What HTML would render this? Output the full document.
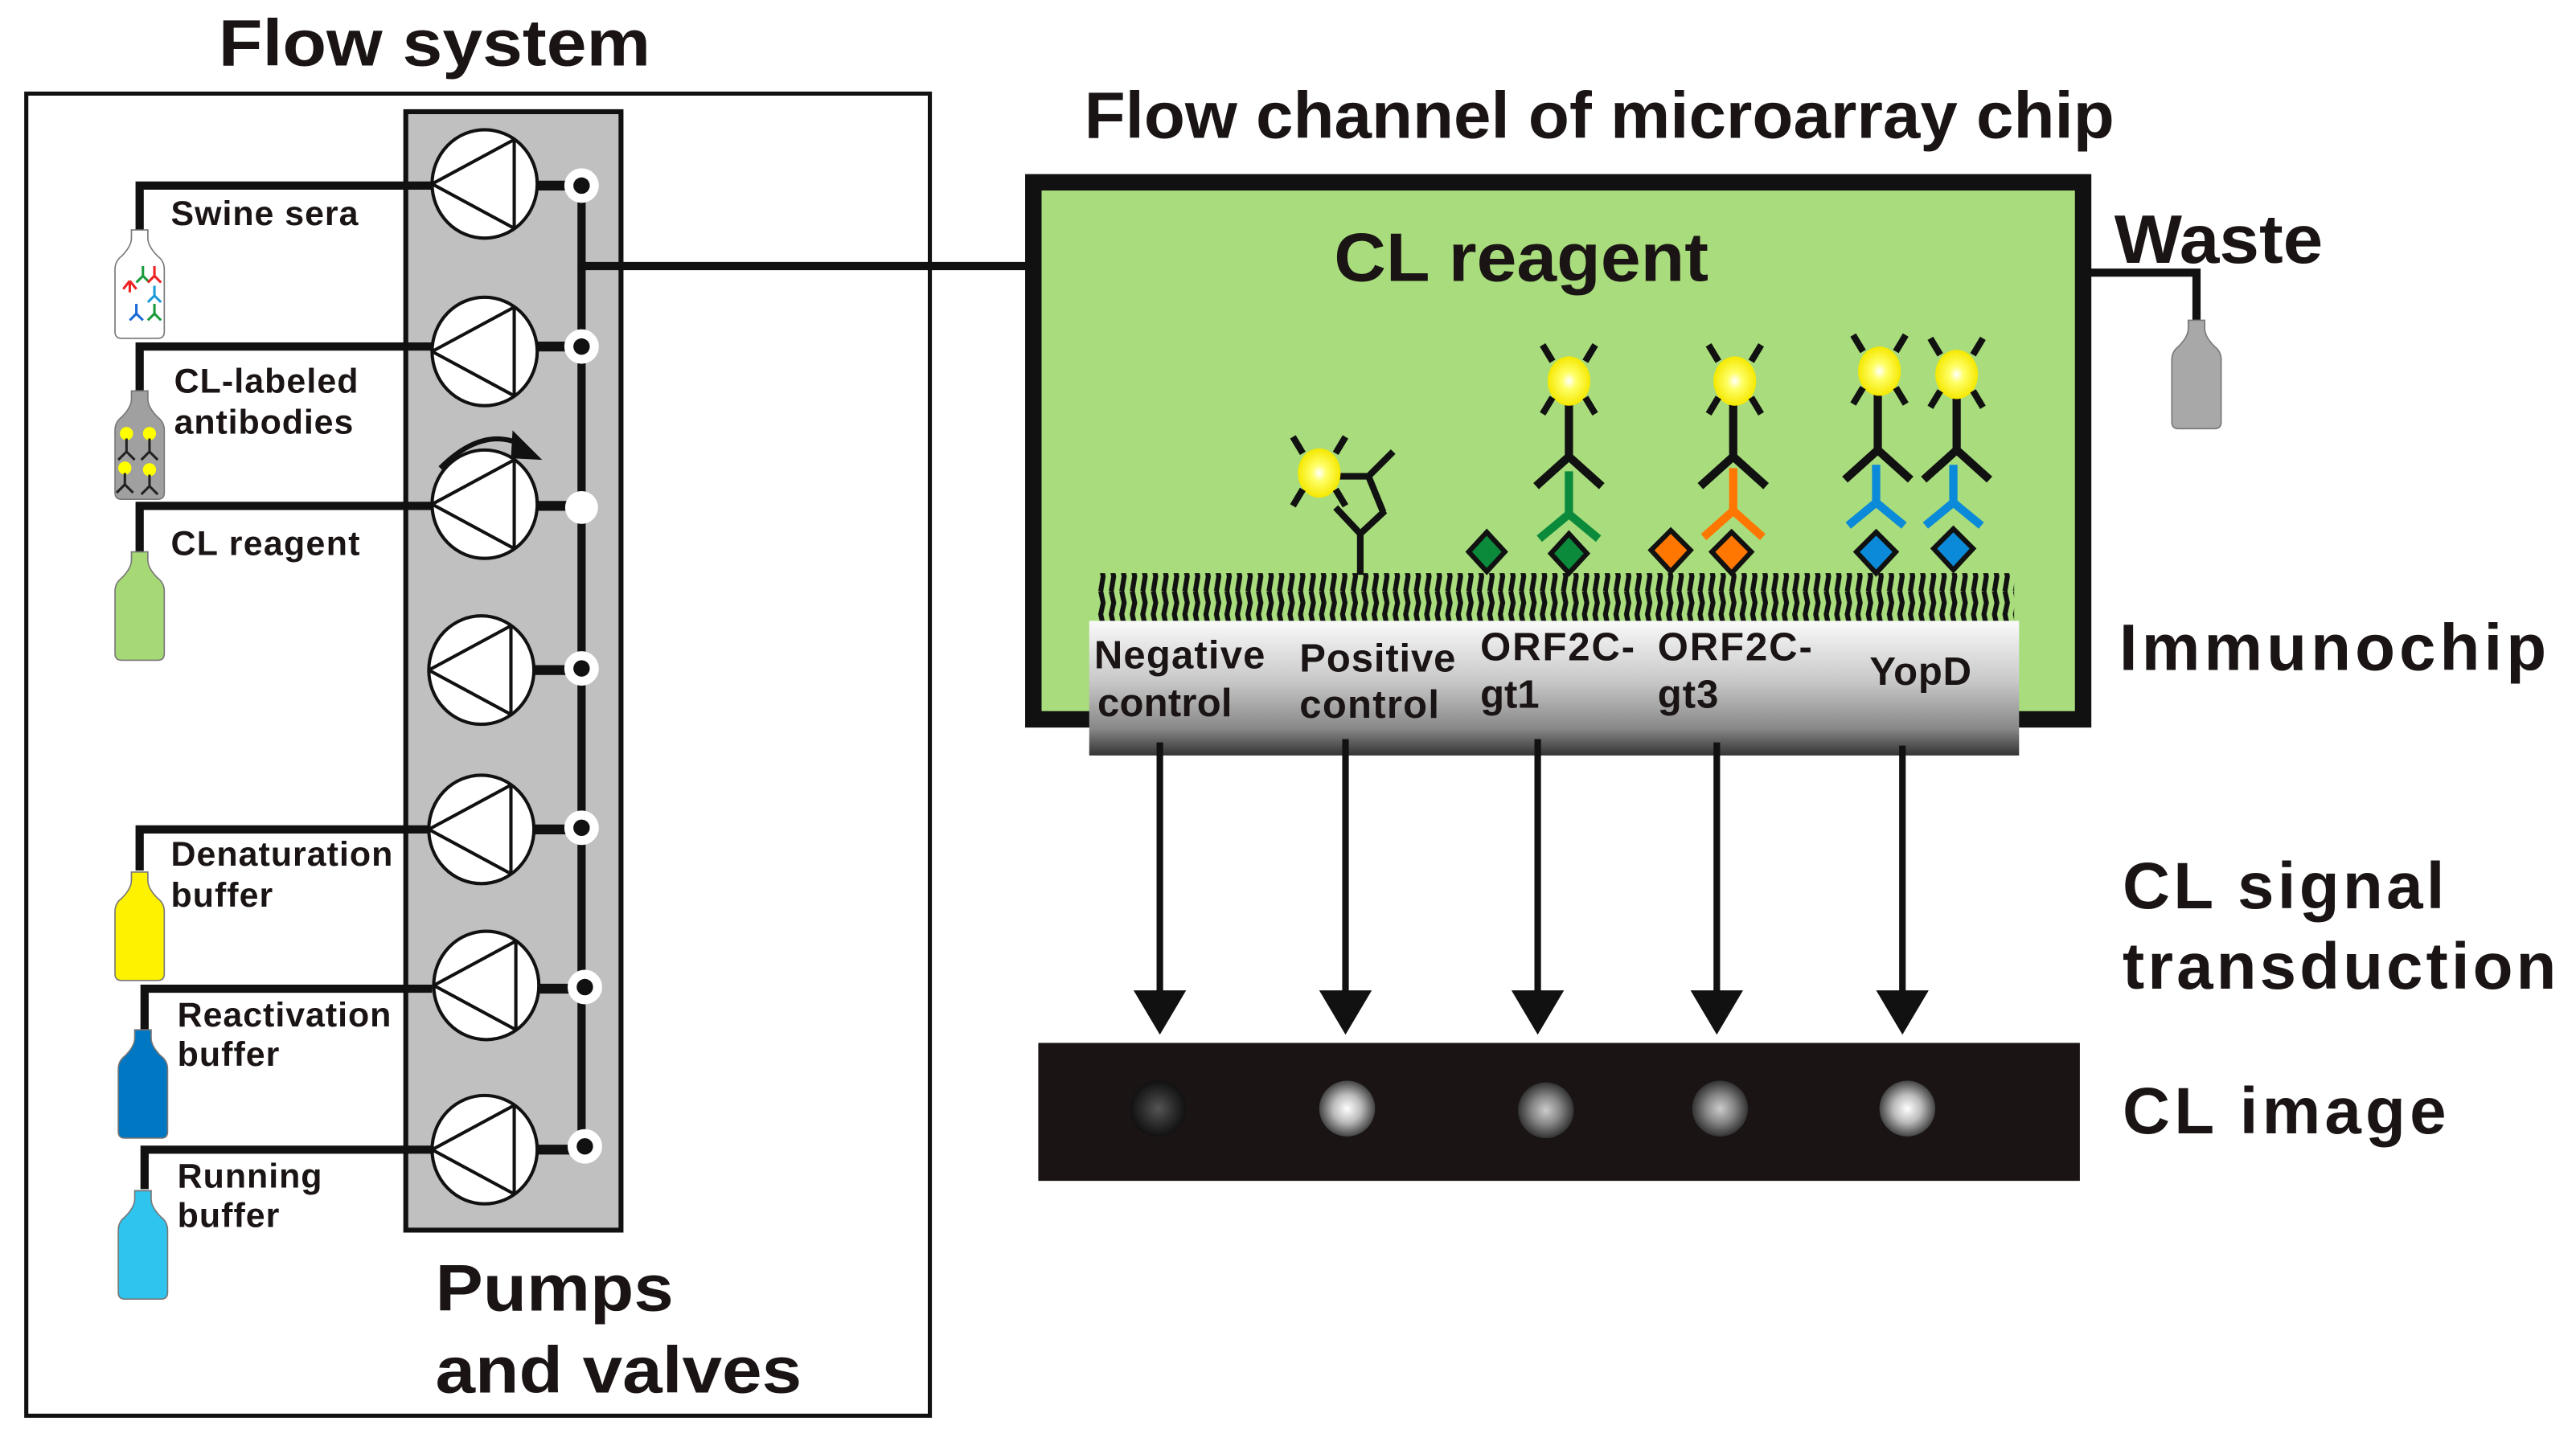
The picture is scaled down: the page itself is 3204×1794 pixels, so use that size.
<!DOCTYPE html>
<html><head><meta charset="utf-8"><style>
html,body{margin:0;padding:0;background:#fff;}
svg{display:block;}
text{font-family:"Liberation Sans",Arial,sans-serif;font-weight:bold;fill:#1a1414;}
</style></head><body>
<svg width="3204" height="1794" viewBox="0 0 1568 878" preserveAspectRatio="none" xmlns="http://www.w3.org/2000/svg">
<defs>
<path id="bt" d="M10,0 H20 V5 Q20,10 26,16 Q30,19 30,24 V62 Q30,66 26,66 H4 Q0,66 0,62 V24 Q0,19 4,16 Q10,10 10,5 Z" stroke="#777" stroke-width="0.8"/>
<g id="pump">
<ellipse cx="0" cy="0" rx="32" ry="33" fill="#fff" stroke="#111" stroke-width="2"/>
<path d="M-32,0 L18,-27 M-32,0 L18,27 M18,-27 V27" stroke="#111" stroke-width="2" fill="none"/>
</g>
<g id="valve"><circle r="10" fill="#fff" stroke="#fff"/><circle r="5" fill="#111"/></g>
<pattern id="br" width="6.4" height="30" patternUnits="userSpaceOnUse" x="668">
<path d="M2,0 L3.5,7 L2,14 L3.5,21 L2,30" stroke="#111" stroke-width="3" fill="none"/>
</pattern>
<linearGradient id="slab" x1="0" y1="0" x2="0" y2="1">
<stop offset="0" stop-color="#fafafa"/><stop offset="0.45" stop-color="#c8c8c8"/><stop offset="0.8" stop-color="#888"/><stop offset="1" stop-color="#333"/>
</linearGradient>
<radialGradient id="glow"><stop offset="0" stop-color="#fff"/><stop offset="0.35" stop-color="#ffff66"/><stop offset="1" stop-color="#f5e800"/></radialGradient>
<radialGradient id="sB"><stop offset="0" stop-color="#fff"/><stop offset="0.5" stop-color="#bbb"/><stop offset="1" stop-color="#444"/></radialGradient>
<radialGradient id="sM"><stop offset="0" stop-color="#ccc"/><stop offset="0.5" stop-color="#888"/><stop offset="1" stop-color="#333"/></radialGradient>
<radialGradient id="sD"><stop offset="0" stop-color="#555"/><stop offset="0.6" stop-color="#2a2a2a"/><stop offset="1" stop-color="#111"/></radialGradient>
<g id="star">
<ellipse rx="13" ry="15" fill="url(#glow)"/>
<path d="M-10,-12 L-16,-22 M10,-12 L16,-22 M-10,10 L-16,20 M10,10 L16,20" stroke="#111" stroke-width="4"/>
</g>
<g id="secY"><path d="M0,0 V48 M0,48 L-20,66 M0,48 L20,66" stroke="#111" stroke-width="5" fill="none"/></g>
</defs>

<text x="133" y="40" font-size="40" textLength="263" lengthAdjust="spacingAndGlyphs">Flow system</text>
<rect x="16" y="57" width="550" height="805" fill="none" stroke="#111" stroke-width="2.5"/>
<rect x="247" y="68" width="131" height="681" fill="#c0c0c0" stroke="#111" stroke-width="3"/>

<g stroke="#111" stroke-width="5" fill="none">
<path d="M263,113 H85 V142"/>
<path d="M263,211 H85 V240"/>
<path d="M263,308 H85 V336"/>
<path d="M263,505 H85 V530"/>
<path d="M263,602 H88 V627"/>
<path d="M263,700 H88 V724"/>
<path d="M354,113 V700"/>
<path d="M354,162 H628"/>
</g>
<g stroke="#111" stroke-width="6">
<path d="M325,113 H354 M325,211 H354 M325,308 H354 M325,408 H354 M325,505 H354 M325,602 H354 M325,700 H354"/>
</g>
<use href="#pump" x="295" y="112"/>
<use href="#pump" x="295" y="214"/>
<use href="#pump" x="295" y="307"/>
<use href="#pump" x="293" y="408"/>
<use href="#pump" x="293" y="505"/>
<use href="#pump" x="296" y="600"/>
<use href="#pump" x="295" y="700"/>
<use href="#valve" x="354" y="113"/>
<use href="#valve" x="354" y="211"/>
<circle cx="354" cy="309" r="10" fill="#fff"/>
<use href="#valve" x="354" y="407"/>
<use href="#valve" x="354" y="504"/>
<use href="#valve" x="356" y="601"/>
<use href="#valve" x="356" y="698"/>
<path d="M268,285 Q295,258 320,272" stroke="#111" stroke-width="3" fill="none"/>
<path d="M312,262 L330,280 L311,279 Z" fill="#111"/>

<use href="#bt" x="70" y="140" fill="#fff"/>
<g stroke-width="1.5" fill="none">
<path d="M79,178 V171 M79,171 L75,176 M79,171 L83,176" stroke="#e22"/>
<path d="M87,168 V162 M87,168 L83,172 M87,168 L91,172" stroke="#1a9a3a"/>
<path d="M94,168 V162 M94,168 L90,172 M94,168 L98,172" stroke="#e22"/>
<path d="M94,180 V174 M94,180 L90,184 M94,180 L98,184" stroke="#1a9ad8"/>
<path d="M83,191 V185 M83,191 L79,195 M83,191 L87,195" stroke="#1a6ad8"/>
<path d="M94,191 V185 M94,191 L90,195 M94,191 L98,195" stroke="#1a9a3a"/>
</g>
<use href="#bt" x="70" y="238" fill="#a0a0a0"/>
<g>
<circle cx="77" cy="264" r="4" fill="#ff0"/><circle cx="91" cy="264" r="4" fill="#ff0"/>
<circle cx="76" cy="285" r="4" fill="#ff0"/><circle cx="91" cy="286" r="4" fill="#ff0"/>
<path d="M77,267 V275 L72,280 M77,275 L82,280 M91,267 V275 L86,280 M91,275 L96,280 M76,288 V295 L71,300 M76,295 L81,300 M91,289 V296 L86,301 M91,296 L96,301" stroke="#222" stroke-width="1.5" fill="none"/>
</g>
<use href="#bt" x="70" y="336" fill="#a6d876"/>
<use href="#bt" x="70" y="531" fill="#fff200"/>
<use href="#bt" x="72" y="627" fill="#0077c2"/>
<use href="#bt" x="72" y="725" fill="#2ec4ee"/>

<g font-size="21" lengthAdjust="spacingAndGlyphs">
<text x="104" y="137" textLength="114">Swine sera</text>
<text x="106" y="239" textLength="112">CL-labeled</text>
<text x="106" y="264" textLength="109">antibodies</text>
<text x="104" y="338" textLength="115">CL reagent</text>
<text x="104" y="527" textLength="135">Denaturation</text>
<text x="104" y="552" textLength="62">buffer</text>
<text x="108" y="625" textLength="130">Reactivation</text>
<text x="108" y="649" textLength="62">buffer</text>
<text x="108" y="723" textLength="88">Running</text>
<text x="108" y="747" textLength="62">buffer</text>
</g>
<text x="265" y="798" font-size="40" textLength="145" lengthAdjust="spacingAndGlyphs">Pumps</text>
<text x="265" y="848" font-size="40" textLength="223" lengthAdjust="spacingAndGlyphs">and valves</text>

<text x="660" y="84" font-size="40" textLength="627" lengthAdjust="spacingAndGlyphs">Flow channel of  microarray chip</text>
<rect x="629" y="111" width="639" height="327" fill="#a8dc7c" stroke="#111" stroke-width="10"/>
<text x="812" y="171" font-size="42" textLength="228" lengthAdjust="spacingAndGlyphs">CL reagent</text>
<path d="M1270,166 H1337 V196" stroke="#111" stroke-width="5" fill="none"/>
<use href="#bt" x="1322" y="195" fill="#a8a8a8"/>
<text x="1287" y="160" font-size="42" textLength="127" lengthAdjust="spacingAndGlyphs">Waste</text>

<rect x="668" y="349" width="558" height="30" fill="url(#br)"/>
<rect x="663" y="378" width="566" height="82" fill="url(#slab)"/>
<g font-size="24" lengthAdjust="spacingAndGlyphs">
<text x="666" y="407" textLength="104">Negative</text><text x="668" y="436" textLength="82">control</text>
<text x="791" y="409" textLength="95">Positive</text><text x="791" y="437" textLength="85">control</text>
<text x="901" y="402" textLength="94">ORF2C-</text><text x="901" y="431" textLength="36">gt1</text>
<text x="1009" y="402" textLength="94">ORF2C-</text><text x="1009" y="431" textLength="37">gt3</text>
<text x="1138" y="417" textLength="62">YopD</text>
</g>

<path d="M828,350 V325 M828,325 L813,309 M828,325 L843,311" stroke="#111" stroke-width="4" fill="none"/>
<path d="M809,290 H833 M833,290 L848,275 M833,290 L842,312" stroke="#111" stroke-width="4" fill="none"/>
<use href="#star" x="803" y="288"/>
<g stroke="#111" stroke-width="3">
<path d="M905,324 L916,336 L905,348 L894,336 Z" fill="#0a8a3a"/>
<path d="M955,325 L966,337 L955,349 L944,337 Z" fill="#0a8a3a"/>
<path d="M1017,323 L1029,335 L1017,348 L1005,335 Z" fill="#ff7700"/>
<path d="M1054,324 L1066,336 L1054,349 L1042,336 Z" fill="#ff7700"/>
<path d="M1142,324 L1154,336 L1142,349 L1130,336 Z" fill="#0a8ad8"/>
<path d="M1189,322 L1201,334 L1189,347 L1177,334 Z" fill="#0a8ad8"/>
</g>
<path d="M955,287 V313 L937,328 M955,313 L973,328" stroke="#0a8a3a" stroke-width="5" fill="none"/>
<path d="M1055,285 V311 L1037,327 M1055,311 L1073,327" stroke="#ff7700" stroke-width="5" fill="none"/>
<path d="M1142,283 V306 L1125,320 M1142,306 L1159,320" stroke="#0a8ad8" stroke-width="5" fill="none"/>
<path d="M1189,283 V306 L1172,320 M1189,306 L1206,320" stroke="#0a8ad8" stroke-width="5" fill="none"/>
<use href="#secY" x="955" y="230"/>
<use href="#secY" x="1055" y="230"/>
<use href="#secY" x="1143" y="226"/>
<use href="#secY" x="1191" y="226"/>
<use href="#star" x="955" y="232"/>
<use href="#star" x="1056" y="232"/>
<use href="#star" x="1144" y="226"/>
<use href="#star" x="1191" y="228"/>

<g font-size="40" lengthAdjust="spacingAndGlyphs">
<text x="1290" y="408" textLength="260">Immunochip</text>
<text x="1292" y="553" textLength="196">CL signal</text>
<text x="1292" y="602" textLength="264">transduction</text>
<text x="1292" y="690" textLength="197">CL image</text>
</g>

<g stroke="#111" stroke-width="4">
<path d="M706,452 V606 M819,450 V606 M936,450 V606 M1045,452 V606 M1158,454 V606"/>
</g>
<g fill="#111">
<path d="M690,603 H722 L706,630 Z"/><path d="M803,603 H835 L819,630 Z"/><path d="M920,603 H952 L936,630 Z"/><path d="M1029,603 H1061 L1045,630 Z"/><path d="M1142,603 H1174 L1158,630 Z"/>
</g>
<rect x="632" y="635" width="634" height="84" fill="#1a1414"/>
<circle cx="705" cy="675" r="17" fill="url(#sD)"/>
<circle cx="820" cy="675" r="17" fill="url(#sB)"/>
<circle cx="941" cy="676" r="17" fill="url(#sM)"/>
<circle cx="1047" cy="675" r="17" fill="url(#sM)"/>
<circle cx="1161" cy="675" r="17" fill="url(#sB)"/>
</svg>
</body></html>
